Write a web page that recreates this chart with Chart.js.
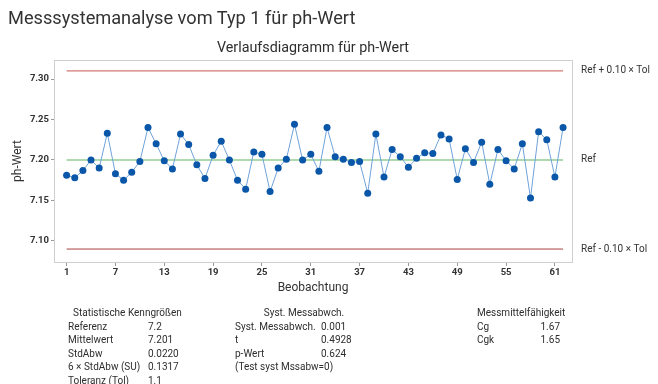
<!DOCTYPE html>
<html>
<head>
<meta charset="utf-8">
<title>Messsystemanalyse vom Typ 1</title>
<script src="https://cdn.jsdelivr.net/npm/chart.js"></script>
<style>
    body { margin: 0; background: #fff; }
    #wrap { position: relative; width: 658px; height: 384px; overflow: hidden; font-family: Roboto, sans-serif; color: #2e2e2e; }
    #chart { position: absolute; left: 0; top: 0; }
    .txt { position: absolute; white-space: nowrap; font-size: 10px; line-height: 13px; }
    #mainTitle { position: absolute; left: 8px; top: 5px; font-size: 18.2px; line-height: 26px; color: #333; white-space: nowrap; }
    #subTitle { position: absolute; left: 0; width: 626px; top: 38px; font-size: 14.3px; line-height: 18px; text-align: center; white-space: nowrap; }
</style>
</head>
<body>
<div id="wrap">
    <canvas id="chart" width="658" height="384"></canvas>
    <div id="mainTitle">Messsystemanalyse vom Typ 1 für ph-Wert</div>
    <div id="subTitle">Verlaufsdiagramm für ph-Wert</div>
</div>
<script>
// measured pH values, observation 1..62
const phValues = [
    7.181, 7.178, 7.187, 7.200, 7.190, 7.233, 7.183, 7.175, 7.185, 7.198,
    7.240, 7.220, 7.199, 7.189, 7.232, 7.219, 7.194, 7.177, 7.206, 7.223,
    7.200, 7.175, 7.164, 7.210, 7.207, 7.161, 7.190, 7.201, 7.244, 7.200,
    7.207, 7.186, 7.240, 7.204, 7.201, 7.197, 7.198, 7.159, 7.232, 7.179,
    7.213, 7.204, 7.191, 7.202, 7.209, 7.208, 7.231, 7.226, 7.176, 7.214,
    7.197, 7.222, 7.170, 7.213, 7.199, 7.189, 7.220, 7.153, 7.235, 7.225,
    7.179, 7.240
];
const refValue = 7.2;
const tolerance = 1.1;
const tolFraction = 0.10;

const xTicks = [1, 7, 13, 19, 25, 31, 37, 43, 49, 55, 61];
const yTicks = [7.10, 7.15, 7.20, 7.25, 7.30];
const refLabels = ['Ref + 0.10 × Tol', 'Ref', 'Ref - 0.10 × Tol'];

// text table below the chart
const statsHeader = 'Statistische Kenngrößen';
const statsNames = ['Referenz', 'Mittelwert', 'StdAbw', '6 × StdAbw (SU)', 'Toleranz (Tol)'];
const statsValues = ['7.2', '7.201', '0.0220', '0.1317', '1.1'];
const biasHeader = 'Syst. Messabwch.';
const biasNames = ['Syst. Messabwch.', 't', 'p-Wert', '(Test syst Mssabw=0)'];
const biasValues = ['0.001', '0.4928', '0.624', ''];
const capHeader = 'Messmittelfähigkeit';
const capNames = ['Cg', 'Cgk'];
const capValues = ['1.67', '1.65'];

const wrap = document.getElementById('wrap');
function addText(str, left, centerY, extra) {
    const d = document.createElement('div');
    d.className = 'txt';
    d.textContent = str;
    d.style.left = left + 'px';
    d.style.top = (centerY - 6.5) + 'px';
    if (extra) Object.assign(d.style, extra);
    wrap.appendChild(d);
    return d;
}
const rowY = [326, 339.5, 353, 366.5, 380];
addText(statsHeader, 73, 312.5);
statsNames.forEach((s, i) => addText(s, 68, rowY[i]));
statsValues.forEach((s, i) => addText(s, 148, rowY[i]));
addText(biasHeader, 204, 312.5, { width: '200px', textAlign: 'center' });
biasNames.forEach((s, i) => addText(s, 235, rowY[i]));
biasValues.forEach((s, i) => addText(s, 321, rowY[i]));
addText(capHeader, 477, 312.5);
capNames.forEach((s, i) => addText(s, 477, rowY[i]));
capValues.forEach((s, i) => addText(s, 460, rowY[i], { width: '100px', textAlign: 'right' }));

const n = phValues.length;
const upper = refValue + tolFraction * tolerance;
const lower = refValue - tolFraction * tolerance;
const hLine = v => [{ x: 1, y: v }, { x: n, y: v }];

const tickFont = { family: 'Roboto', size: 9.5, weight: 'bold' };
const titleFont = { family: 'Roboto', size: 12 };

// frame around the plot and labels for the reference lines
const framePlugin = {
    id: 'frame',
    beforeDatasetsDraw(chart) {
        const { ctx, chartArea: a } = chart;
        ctx.save();
        ctx.strokeStyle = '#cfcfcf';
        ctx.lineWidth = 1;
        ctx.strokeRect(Math.round(a.left) + 0.5, Math.round(a.top) + 0.5, Math.round(a.width), Math.round(a.height));
        ctx.restore();
    },
    afterDraw(chart) {
        const { ctx, chartArea: a } = chart;
        const ys = chart.scales.y;
        ctx.save();
        ctx.font = '10px Roboto';
        ctx.fillStyle = '#333';
        ctx.textBaseline = 'middle';
        [upper, refValue, lower].forEach((v, i) => {
            ctx.fillText(refLabels[i], a.right + 9, ys.getPixelForValue(v));
        });
        ctx.restore();
    }
};

new Chart(document.getElementById('chart'), {
    type: 'line',
    data: {
        datasets: [{
            data: phValues.map((v, i) => ({ x: i + 1, y: v })),
            borderColor: '#6fa3d9',
            borderWidth: 1,
            pointRadius: 3.5,
            pointBackgroundColor: '#0a56a8',
            pointBorderWidth: 0,
            tension: 0
        }, {
            data: hLine(upper),
            borderColor: '#d27873',
            borderWidth: 1.2,
            pointRadius: 0
        }, {
            data: hLine(refValue),
            borderColor: '#5cb85c',
            borderWidth: 1.2,
            pointRadius: 0
        }, {
            data: hLine(lower),
            borderColor: '#a8433f',
            borderWidth: 1,
            pointRadius: 0
        }]
    },
    options: {
        responsive: false,
        animation: false,
        layout: { padding: { left: 0, right: 86, top: 60, bottom: 89 } },
        plugins: { legend: { display: false }, tooltip: { enabled: false } },
        scales: {
            x: {
                type: 'linear',
                min: -0.55,
                max: 63.1,
                afterBuildTicks: s => { s.ticks = xTicks.map(v => ({ value: v })); },
                afterFit: s => { s.height = 33; },
                ticks: { autoSkip: false, maxRotation: 0, padding: 1, font: tickFont, color: '#333' },
                grid: { drawOnChartArea: false, tickLength: 4, color: '#9a9a9a' },
                border: { color: '#a8a8a8' },
                title: { display: true, text: 'Beobachtung', font: titleFont, color: '#333', padding: 0 }
            },
            y: {
                min: 7.074,
                max: 7.3235,
                afterBuildTicks: s => { s.ticks = yTicks.map(v => ({ value: v })); },
                afterFit: s => { s.width = 54; },
                ticks: { padding: 2, font: tickFont, color: '#333', callback: v => v.toFixed(2) },
                grid: { drawOnChartArea: false, tickLength: 3, color: '#9a9a9a' },
                border: { color: '#a8a8a8' },
                title: { display: true, text: 'ph-Wert', font: titleFont, color: '#333', padding: { top: 11, bottom: 0 } }
            }
        }
    },
    plugins: [framePlugin]
});
</script>
</body>
</html>
